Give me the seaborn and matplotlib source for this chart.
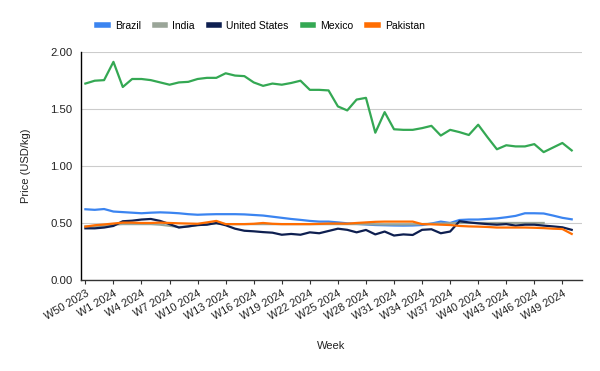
import numpy as np
import pandas as pd
import matplotlib
matplotlib.use("Agg")
import matplotlib.pyplot as plt
import seaborn as sns

# weeks W50 2023 .. W50 2024
weeks = ["W50 2023", "W51 2023", "W52 2023"] + ["W%d 2024" % w for w in range(1, 51)]

brazil = [0.62, 0.615, 0.622, 0.60, 0.595, 0.59, 0.585, 0.59, 0.593, 0.59,
          0.585, 0.577, 0.572, 0.575, 0.577, 0.577, 0.577, 0.575, 0.57, 0.565,
          0.555, 0.545, 0.535, 0.527, 0.518, 0.512, 0.512, 0.505, 0.497, 0.492,
          0.487, 0.482, 0.48, 0.478, 0.477, 0.478, 0.482, 0.495, 0.512, 0.50,
          0.526, 0.53, 0.53, 0.535, 0.54, 0.55, 0.562, 0.585, 0.585, 0.583,
          0.565, 0.545, 0.532]

india = [0.47, 0.47, 0.475, 0.485, 0.49, 0.49, 0.49, 0.49, 0.485, 0.475,
         0.465, 0.47, 0.48, 0.49, 0.495, 0.49, 0.49, 0.49, 0.49, 0.49,
         0.49, 0.49, 0.49, 0.49, 0.49, 0.49, 0.49, 0.49, 0.49, 0.49,
         0.49, 0.488, 0.487, 0.487, 0.487, 0.488, 0.49, 0.493, 0.495, 0.497,
         0.50, 0.50, 0.50, 0.50, 0.50, 0.50, 0.50, 0.50, 0.50, 0.50,
         np.nan, np.nan, np.nan]

united_states = [0.453, 0.453, 0.46, 0.474, 0.515, 0.52, 0.53, 0.535, 0.518, 0.49,
                 0.46, 0.47, 0.482, 0.485, 0.50, 0.48, 0.45, 0.432, 0.427, 0.42,
                 0.415, 0.397, 0.404, 0.397, 0.418, 0.41, 0.43, 0.45, 0.44, 0.418,
                 0.439, 0.40, 0.425, 0.39, 0.40, 0.395, 0.44, 0.445, 0.41, 0.425,
                 0.515, 0.505, 0.497, 0.49, 0.485, 0.49, 0.477, 0.485, 0.485, 0.477,
                 0.47, 0.462, 0.44]

mexico = [1.72, 1.745, 1.75, 1.91, 1.69, 1.76, 1.76, 1.75, 1.73, 1.71,
          1.73, 1.735, 1.76, 1.77, 1.77, 1.81, 1.79, 1.785, 1.73, 1.70,
          1.72, 1.71, 1.725, 1.745, 1.665, 1.665, 1.66, 1.52, 1.485, 1.58,
          1.595, 1.29, 1.47, 1.32, 1.315, 1.315, 1.33, 1.35, 1.265, 1.315,
          1.295, 1.27, 1.36, 1.25, 1.145, 1.18, 1.17, 1.17, 1.19, 1.12,
          1.16, 1.20, 1.135]

pakistan = [0.468, 0.48, 0.487, 0.495, 0.503, 0.503, 0.50, 0.50, 0.503, 0.50,
            0.497, 0.495, 0.493, 0.505, 0.518, 0.49, 0.49, 0.49, 0.493, 0.50,
            0.493, 0.49, 0.49, 0.49, 0.49, 0.492, 0.495, 0.495, 0.494, 0.50,
            0.505, 0.51, 0.512, 0.512, 0.512, 0.512, 0.49, 0.488, 0.485, 0.482,
            0.474, 0.47, 0.468, 0.465, 0.46, 0.46, 0.46, 0.46, 0.458, 0.455,
            0.45, 0.447, 0.404]

countries = ["Brazil", "India", "United States", "Mexico", "Pakistan"]
colors = ["#3b84f0", "#9aa598", "#0e1f50", "#34a853", "#ff6d01"]

series = dict(zip(countries, [brazil, india, united_states, mexico, pakistan]))
df = pd.DataFrame({"idx": np.arange(len(weeks)), **series})
long = df.melt(id_vars="idx", var_name="country", value_name="price").dropna()

plt.rcParams["font.family"] = ["Liberation Sans", "DejaVu Sans"]

fig = plt.figure(figsize=(6, 3.71), dpi=100)
ax = fig.add_axes([0.1345, 0.245, 0.8355, 0.616])

sns.lineplot(data=long, x="idx", y="price", hue="country", hue_order=countries,
             palette=colors, linewidth=1.6, ax=ax, legend=False)

ax.set_ylim(0, 2.0)
ax.set_xlim(-0.5, 53.1)
ax.set_yticks([0, 0.5, 1.0, 1.5, 2.0])
ax.set_yticklabels(["0.00", "0.50", "1.00", "1.50", "2.00"], fontsize=8.2, color="#222222")
tick_idx = list(range(0, len(weeks), 3))
ax.set_xticks(tick_idx)
ax.set_xticklabels([weeks[i] for i in tick_idx], rotation=30, ha="right",
                   rotation_mode="anchor", fontsize=7.8, color="#222222")
ax.tick_params(axis="y", length=0, pad=6)
ax.tick_params(axis="x", length=3, color="#333333", pad=3)
ax.grid(axis="y", color="#cccccc", linewidth=0.8)
ax.set_axisbelow(True)
for s in ["top", "right"]:
    ax.spines[s].set_visible(False)
ax.spines["left"].set_color("#000000")
ax.spines["bottom"].set_color("#333333")
ax.spines["left"].set_linewidth(1.0)
ax.spines["bottom"].set_linewidth(1.0)

ax.set_xlabel("Week", fontsize=8, color="#222222", labelpad=14)
ax.set_ylabel("Price (USD/kg)", fontsize=8, color="#222222", labelpad=14)

handles = [plt.Line2D([0], [0], color=c, linewidth=4) for c in colors]
fig.legend(handles, countries, loc="center", bbox_to_anchor=(0.435, 0.93), ncol=5,
           frameon=False, fontsize=7.5, handlelength=1.0, columnspacing=1.35,
           handletextpad=0.67)

fig.savefig("out.png", dpi=100, facecolor="white")
